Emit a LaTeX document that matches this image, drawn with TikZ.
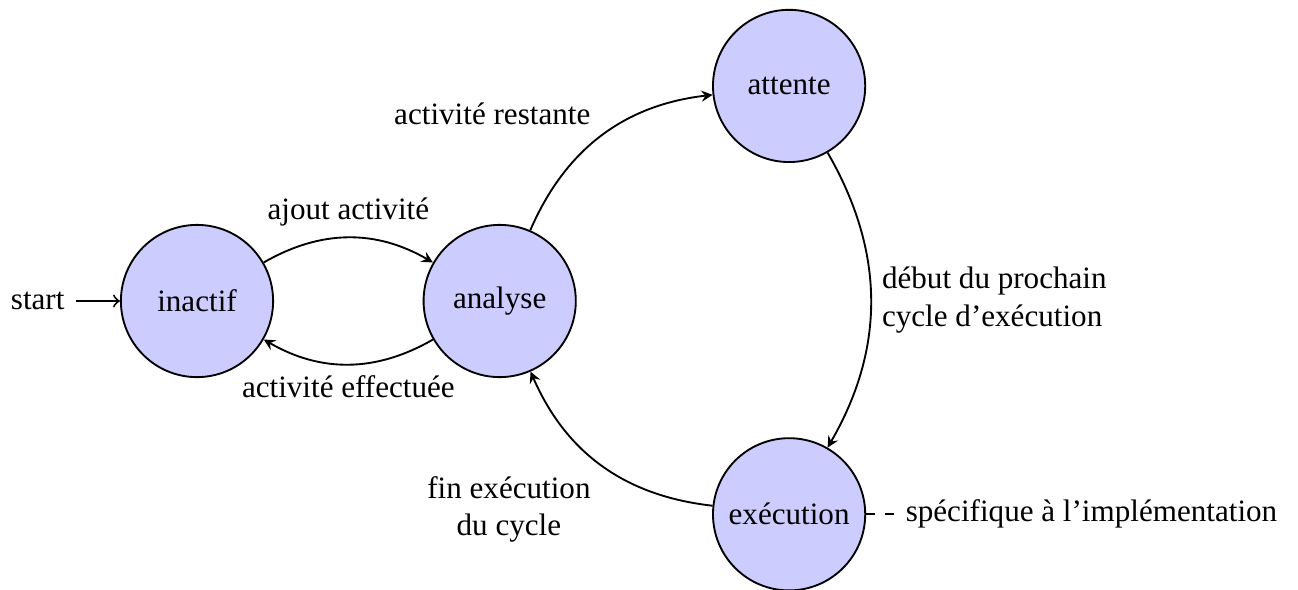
\documentclass[tikz,border=0pt]{standalone}
\usepackage{fontspec}
\setmainfont{Liberation Serif}
\usetikzlibrary{positioning}
\tikzset{etat/.style={circle, draw, fill=blue!20, minimum size=1.72cm, inner sep=0pt}}
\tikzset{trans/.style={-stealth, bend left=30}}

\begin{document}
\begin{tikzpicture}[semithick]
                    \useasboundingbox (-2.226,-3.265) rectangle (12.44,3.401);

                    \node[etat] (inactif) at (0,0) {inactif};
                    \node[etat] (analyse) at (3.42,0) {analyse};
                    \node[etat] (attente) at (6.69,2.43) {attente};
                    \node[etat] (execution) at (6.69,-2.41) {exécution};

                    \node (start) at (-1.8,0) {start};
                    \node[right=0.32cm of execution] (impl) {spécifique à l’implémentation};

                    \draw[->] (start) -- (inactif);
                    \draw[trans] (inactif) to node[above] (ajout) {ajout activité} (analyse);
                    \draw[trans] (analyse) to node[below] (effectuee) {activité effectuée} (inactif);
                    \draw[trans] (analyse) to node[above left] (restante) {activité restante} (attente);
                    \draw[trans] (attente) to node[right, align=left] (debut) {début du prochain\\cycle d’exécution} (execution);
                    \draw[trans] (execution) to node[below left, align=center] (fin) {fin exécution\\du cycle} (analyse);

                    \draw[dashed] (execution) -- (impl);
                \end{tikzpicture}
\end{document}
